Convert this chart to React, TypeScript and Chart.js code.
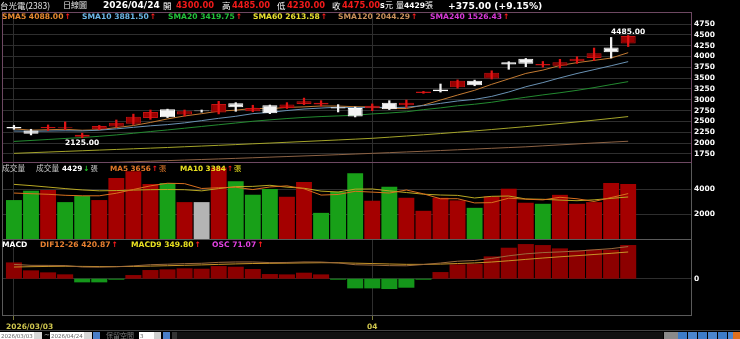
import React, { useEffect, useRef } from 'react';
import { Chart, registerables } from 'chart.js';

Chart.register(...registerables);

// ---------------- data ----------------
const dates = [
  '2026/03/03', '2026/03/04', '2026/03/05', '2026/03/06', '2026/03/09', '2026/03/10', '2026/03/11', '2026/03/12', '2026/03/13',
  '2026/03/16', '2026/03/17', '2026/03/18', '2026/03/19', '2026/03/20', '2026/03/23', '2026/03/24', '2026/03/25', '2026/03/26',
  '2026/03/27', '2026/03/30', '2026/03/31', '2026/04/01', '2026/04/02', '2026/04/07', '2026/04/08', '2026/04/09', '2026/04/10',
  '2026/04/13', '2026/04/14', '2026/04/15', '2026/04/16', '2026/04/17', '2026/04/20', '2026/04/21', '2026/04/22', '2026/04/23', '2026/04/24',
];
const opens = [2370, 2290, 2345, 2345, 2150, 2320, 2385, 2445, 2580, 2780, 2660, 2755, 2705, 2920, 2735, 2875, 2810, 2905, 2890, 2830, 2810, 2805, 2935, 2875, 3160, 3240, 3290, 3440, 3490, 3870, 3950, 3790, 3785, 3890, 3965, 4210, 4300];
const highs = [2410, 2320, 2420, 2490, 2230, 2410, 2535, 2670, 2765, 2785, 2765, 2765, 2965, 2935, 2875, 2880, 2935, 3040, 2980, 2890, 2835, 2905, 2980, 2995, 3195, 3365, 3460, 3455, 3670, 3880, 3955, 3885, 3935, 3995, 4195, 4440, 4485];
const lows = [2320, 2190, 2290, 2310, 2125, 2310, 2370, 2430, 2550, 2590, 2625, 2715, 2675, 2735, 2725, 2680, 2800, 2890, 2855, 2720, 2605, 2750, 2775, 2825, 3150, 3180, 3270, 3325, 3480, 3705, 3765, 3755, 3735, 3840, 3905, 3965, 4230];
const closes = [2340, 2215, 2375, 2365, 2195, 2395, 2470, 2610, 2720, 2600, 2735, 2735, 2905, 2830, 2810, 2690, 2890, 2965, 2935, 2800, 2615, 2865, 2785, 2935, 3190, 3200, 3440, 3335, 3625, 3815, 3830, 3825, 3870, 3950, 4075, 4100, 4475];
const priorClose = 2380; // close before the window (first volume bar is drawn as a down day)

const sma5 = [2330, 2300, 2310, 2320, 2298, 2309, 2360, 2407, 2478, 2559, 2627, 2680, 2739, 2761, 2803, 2794, 2825, 2837, 2858, 2856, 2841, 2836, 2800, 2800, 2878, 2995, 3110, 3220, 3358, 3483, 3609, 3686, 3793, 3858, 3910, 3964, 4088];
const sma10 = [2280, 2275, 2280, 2285, 2282, 2300, 2330, 2365, 2400, 2428, 2468, 2520, 2573, 2620, 2681, 2711, 2753, 2788, 2810, 2830, 2818, 2831, 2819, 2829, 2867, 2918, 2973, 3010, 3079, 3181, 3302, 3398, 3507, 3608, 3697, 3787, 3881.5];
const sma20 = [2040, 2062, 2085, 2108, 2130, 2158, 2190, 2228, 2268, 2305, 2345, 2385, 2425, 2465, 2505, 2538, 2568, 2594, 2614, 2629, 2643, 2675, 2696, 2724, 2774, 2814, 2863, 2899, 2944, 3005, 3060, 3114, 3163, 3219, 3282, 3352, 3419.75];
const sma60 = [1765, 1780, 1795, 1810, 1825, 1840, 1855, 1870, 1885, 1900, 1917, 1933, 1950, 1967, 1985, 2002, 2020, 2038, 2056, 2074, 2093, 2112, 2138, 2165, 2193, 2222, 2252, 2283, 2315, 2348, 2382, 2417, 2453, 2490, 2530, 2571, 2613.58];
const sma120 = [1480, 1493, 1506, 1519, 1532, 1545, 1558, 1571, 1584, 1597, 1610, 1623, 1636, 1649, 1663, 1677, 1691, 1705, 1719, 1734, 1749, 1765, 1781, 1797, 1813, 1830, 1847, 1864, 1881, 1898, 1915, 1938, 1960, 1982, 2004, 2024, 2044.29];
const sma240 = [1392, 1396, 1399, 1403, 1407, 1411, 1414, 1418, 1422, 1426, 1430, 1434, 1438, 1442, 1446, 1450, 1454, 1458, 1462, 1466, 1470, 1474, 1478, 1482, 1486, 1490, 1494, 1498, 1502, 1506, 1510, 1514, 1518, 1521, 1523, 1525, 1526.43];

const volumes = [3135, 3890, 3945, 2970, 3460, 3135, 4915, 5460, 4430, 4510, 2970, 2970, 5750, 4650, 3565, 4025, 3400, 4590, 2105, 3810, 5300, 3080, 4210, 3320, 2270, 3320, 3110, 2510, 3435, 4050, 2920, 2835, 3555, 2835, 2970, 4500, 4429];
const volMa5 = [3700, 3650, 3600, 3520, 3480, 3480, 3685, 3988, 4280, 4490, 4457, 4068, 4126, 4170, 3981, 4192, 4278, 4046, 3537, 3586, 3841, 3777, 3701, 3944, 3636, 3240, 3246, 2906, 2929, 3285, 3205, 3150, 3359, 3239, 3023, 3339, 3656];
const volMa10 = [4400, 4300, 4180, 4060, 3950, 3880, 3900, 3940, 3970, 3985, 3969, 3877, 4057, 4225, 4236, 4325, 4173, 4086, 3854, 3784, 4017, 4028, 3874, 3741, 3611, 3541, 3512, 3304, 3437, 3461, 3223, 3198, 3133, 3084, 3154, 3272, 3384];

const dif = [187.2, 174.8, 174.0, 172.1, 153.3, 151.3, 156.4, 168.1, 183.3, 189.6, 197.2, 201.8, 214.1, 219.0, 219.2, 211.0, 212.6, 219.4, 218.1, 206.4, 183.0, 177.9, 171.0, 169.1, 185.5, 205.1, 229.0, 238.3, 265.5, 300.1, 326.1, 341.8, 350.8, 361.5, 378.2, 393.5, 420.87];
const macd9 = [152.8, 157.2, 160.6, 162.9, 161.0, 159.0, 158.5, 160.4, 165.0, 169.9, 175.4, 180.7, 187.4, 193.7, 198.8, 201.2, 203.5, 206.7, 209.0, 208.5, 203.4, 198.3, 192.8, 188.1, 187.6, 191.1, 198.7, 206.6, 218.4, 234.7, 253.0, 270.8, 286.8, 301.7, 317.0, 332.3, 349.8];
const osc = [34.4, 17.6, 13.4, 9.2, -7.7, -7.7, -2.1, 7.7, 18.3, 19.7, 21.8, 21.1, 26.7, 25.3, 20.4, 9.8, 9.1, 12.7, 9.1, -2.1, -20.4, -20.4, -21.8, -19.0, -2.1, 14.0, 30.3, 31.7, 47.1, 65.4, 73.1, 71.0, 64.0, 59.8, 61.2, 61.2, 71.07];

const priceTicks = [1750, 2000, 2250, 2500, 2750, 3000, 3250, 3500, 3750, 4000, 4250, 4500, 4750];
const volumeTicks = [2000, 4000];
const macdTicks = [0];
const xTickDates = ['2026/03/03', '2026/04/01'];
const xTickLabels = ['2026/03/03', '04'];

// ---------------- layout / style constants ----------------
const X_MIN = -0.7;
const X_MAX = 39.74;
const FONT = "'DejaVu Sans', sans-serif";
const CJK = "'Noto Sans CJK TC', 'Noto Sans CJK SC', sans-serif";
const GRID = '#2e2e2e';

const last = (a: number[]) => a[a.length - 1];
const idx = dates.map((_, i) => i);
const pts = (arr: number[]) => arr.map((v, i) => ({ x: i, y: v }));
const xTickIdx = xTickDates.map((d) => dates.indexOf(d));

const candleUp = closes.map((c, i) => c >= opens[i]);
const volDir = closes.map((c, i) => {
  const p = i === 0 ? priorClose : closes[i - 1];
  return c > p ? 1 : c < p ? -1 : 0;
});

Chart.defaults.font.family = FONT;

function xScale(height: number, drawTicks: boolean) {
  return {
    type: 'linear',
    min: X_MIN,
    max: X_MAX,
    offset: false,
    display: true,
    afterBuildTicks: (s: any) => {
      s.ticks = xTickIdx.map((v) => ({ value: v }));
    },
    afterFit: (s: any) => {
      s.height = height;
      s.paddingLeft = 0;
      s.paddingRight = 0;
    },
    ticks: { display: false },
    grid: { color: GRID, offset: false, drawTicks, tickLength: 4, tickColor: '#7a7a3a' },
    border: { display: false },
  };
}

function yScale(min: number, max: number, ticks: number[], show = true) {
  return {
    type: 'linear',
    position: 'right',
    min,
    max,
    beginAtZero: false,
    display: show,
    afterBuildTicks: (s: any) => {
      s.ticks = ticks.map((v) => ({ value: v }));
    },
    afterFit: (s: any) => {
      s.width = show ? 48 : 0;
      s.paddingTop = 0;
      s.paddingBottom = 0;
    },
    grid: { color: GRID, drawTicks: false },
    border: { display: false },
    ticks: {
      color: '#ffffff',
      padding: 2,
      font: { family: FONT, size: 7.5, weight: 'bold' },
      callback: (v: any) => String(v),
    },
  };
}

function framePlugin(color: string, sides = { top: true, right: true, bottom: true, left: true }) {
  return {
    id: 'frame',
    afterDraw(chart: any) {
      const { ctx, chartArea: a } = chart;
      const l = Math.round(a.left) + 0.5;
      const r = Math.round(a.right) - 0.5;
      const t = Math.round(a.top) + 0.5;
      const b = Math.round(a.bottom) - 0.5;
      ctx.save();
      ctx.strokeStyle = color;
      ctx.lineWidth = 1;
      ctx.beginPath();
      if (sides.top) { ctx.moveTo(l, t); ctx.lineTo(r, t); }
      if (sides.right) { ctx.moveTo(r, t - 0.5); ctx.lineTo(r, b + 0.5); }
      if (sides.bottom) { ctx.moveTo(l, b); ctx.lineTo(r, b); }
      if (sides.left) { ctx.moveTo(l, t - 0.5); ctx.lineTo(l, b + 0.5); }
      ctx.stroke();
      ctx.restore();
    },
  };
}

const extremaPlugin = {
  id: 'extrema',
  afterDatasetsDraw(chart: any) {
    const { ctx, scales } = chart;
    const hiIdx = highs.indexOf(Math.max(...highs));
    const loIdx = lows.indexOf(Math.min(...lows));
    ctx.save();
    ctx.font = `bold 7.5px ${FONT}`;
    ctx.fillStyle = '#ffffff';
    ctx.textAlign = 'center';
    ctx.textBaseline = 'alphabetic';
    ctx.fillText(highs[hiIdx].toFixed(2), scales.x.getPixelForValue(hiIdx), scales.y.getPixelForValue(highs[hiIdx]) - 1.5);
    ctx.fillText(lows[loIdx].toFixed(2), scales.x.getPixelForValue(loIdx), scales.y.getPixelForValue(lows[loIdx]) + 7.2);
    ctx.restore();
  },
};

const xLabelPlugin = {
  id: 'xlabels',
  afterDraw(chart: any) {
    const { ctx, scales, chartArea } = chart;
    ctx.save();
    ctx.font = `bold 7.5px ${FONT}`;
    ctx.fillStyle = '#cfc64e';
    ctx.textAlign = 'left';
    ctx.textBaseline = 'alphabetic';
    xTickIdx.forEach((ti, k) => {
      const label = xTickLabels[k];
      const w = ctx.measureText(label).width;
      const px = scales.x.getPixelForValue(ti);
      const left = Math.max(px - w / 2, 6);
      ctx.fillText(label, left, chartArea.bottom + 13);
    });
    ctx.restore();
  },
};

const lineDs = (data: number[], color: string, order = 2, yAxisID = 'y') => ({
  type: 'line',
  data: pts(data),
  borderColor: color,
  borderWidth: 1,
  pointRadius: 0,
  tension: 0,
  order,
  clip: 0,
  yAxisID,
});

const common = {
  animation: false,
  responsive: false,
  devicePixelRatio: 1,
  events: [],
  plugins: { legend: { display: false }, tooltip: { enabled: false } },
};

// ---------------- text helpers ----------------
type TP = { x: number; y: number; s: number; c: string; b?: boolean; cjk?: boolean; children?: React.ReactNode };
function T({ x, y, s, c, b, cjk, children }: TP) {
  return (
    <span
      style={{
        position: 'absolute',
        left: x,
        top: y - s * (cjk ? 0.56 : 0.5),
        fontSize: s,
        lineHeight: 1,
        color: c,
        fontWeight: b ? 700 : 400,
        fontFamily: cjk ? CJK : FONT,
        whiteSpace: 'nowrap',
      }}
    >
      {children}
    </span>
  );
}
const Up = () => <span style={{ color: '#ff1c1c', marginLeft: 1 }}>↑</span>;
const Cj = ({ children, c }: { children: React.ReactNode; c: string }) => (
  <span style={{ fontFamily: CJK, fontWeight: 400, color: c, marginLeft: 1 }}>{children}</span>
);

export default function App() {
  const aRef = useRef<HTMLCanvasElement>(null);
  const bRef = useRef<HTMLCanvasElement>(null);
  const cRef = useRef<HTMLCanvasElement>(null);

  useEffect(() => {
    const charts: Chart[] = [];

    // ---- candles ----
    charts.push(
      new Chart(aRef.current as HTMLCanvasElement, {
        type: 'bar',
        data: {
          datasets: [
            {
              type: 'bar',
              data: idx.map((i) => ({ x: i, y: [lows[i], highs[i]] })),
              backgroundColor: candleUp.map((u) => (u ? '#e01414' : '#f2f2f2')),
              barThickness: 1.6,
              grouped: false,
              order: 0,
            },
            {
              type: 'bar',
              data: idx.map((i) => ({ x: i, y: [opens[i], closes[i]] })),
              backgroundColor: candleUp.map((u) => (u ? '#9a0000' : '#f4f4f4')),
              borderColor: candleUp.map((u) => (u ? '#c41212' : '#ffffff')),
              borderWidth: 1,
              borderSkipped: false,
              barPercentage: 0.88,
              categoryPercentage: 1,
              grouped: false,
              order: 1,
            },
            lineDs(sma240, '#a030a0'),
            lineDs(sma120, '#8c6244'),
            lineDs(sma60, '#a4a42a'),
            lineDs(sma20, '#238a30'),
            lineDs(sma10, '#6a92b4'),
            lineDs(sma5, '#c27a32'),
          ],
        } as any,
        options: {
          ...common,
          layout: { padding: { left: 2, top: 12, right: 0, bottom: 1 } },
          scales: { x: xScale(0, false), y: yScale(1542, 5027, priceTicks) },
        } as any,
        plugins: [framePlugin('#6e4862'), extremaPlugin],
      })
    );

    // ---- volume ----
    charts.push(
      new Chart(bRef.current as HTMLCanvasElement, {
        type: 'bar',
        data: {
          datasets: [
            {
              type: 'bar',
              data: pts(volumes),
              backgroundColor: volDir.map((d) => (d > 0 ? '#a40000' : d < 0 ? '#18a018' : '#b4b4b4')),
              barPercentage: 0.93,
              categoryPercentage: 1,
              grouped: false,
              order: 2,
            },
            lineDs(volMa10, '#b8a824', 1),
            lineDs(volMa5, '#d8701e', 0),
          ],
        } as any,
        options: {
          ...common,
          layout: { padding: { left: 2, top: 0, right: 0, bottom: 0 } },
          scales: { x: xScale(0, false), y: yScale(0, 6120, volumeTicks) },
        } as any,
        plugins: [framePlugin('#5a5a5a', { top: false, right: true, bottom: false, left: true })],
      })
    );

    // ---- MACD ----
    charts.push(
      new Chart(cRef.current as HTMLCanvasElement, {
        type: 'bar',
        data: {
          datasets: [
            {
              type: 'bar',
              data: pts(osc),
              yAxisID: 'yOsc',
              backgroundColor: osc.map((v) => (v >= 0 ? '#8c0000' : '#14961a')),
              barPercentage: 0.94,
              categoryPercentage: 1,
              grouped: false,
              order: 2,
            },
            lineDs(macd9, '#c89428', 1),
            lineDs(dif, '#9c6a3c', 0),
          ],
        } as any,
        options: {
          ...common,
          layout: { padding: { left: 2, top: 0, right: 0, bottom: 0 } },
          scales: {
            x: xScale(23, true),
            y: yScale(-489, 520, macdTicks),
            yOsc: { ...yScale(-78.7, 83.8, [], false), grid: { display: false } },
          },
        } as any,
        plugins: [framePlugin('#5a5a5a'), xLabelPlugin],
      })
    );

    return () => charts.forEach((c) => c.destroy());
  }, []);

  const inputBox = (x: number, w: number, text: string) => (
    <div
      style={{
        position: 'absolute', left: x, top: 332, width: w, height: 8, background: '#ffffff',
        fontFamily: FONT, fontSize: 5.5, lineHeight: '8px', color: '#666', paddingLeft: 1, boxSizing: 'border-box', overflow: 'hidden',
      }}
    >
      {text}
    </div>
  );
  const square = (x: number, w: number, bg: string) => (
    <div style={{ position: 'absolute', left: x, top: 332, width: w, height: 8, background: bg }} />
  );

  return (
    <div style={{ position: 'relative', width: 740, height: 339, background: '#000', overflow: 'hidden' }}>
      <style>{'html,body{margin:0;padding:0;background:#000;}'}</style>
      <canvas ref={aRef} width={740} height={164} style={{ position: 'absolute', left: 0, top: 0 }} />
      <canvas ref={bRef} width={740} height={76} style={{ position: 'absolute', left: 0, top: 163 }} />
      <canvas ref={cRef} width={740} height={100} style={{ position: 'absolute', left: 0, top: 239 }} />

      {/* header row 1 */}
      <T x={0} y={5.5} s={8.5} c="#e4e4e4" cjk>台光電(2383)</T>
      <T x={63} y={5.5} s={8} c="#e4e4e4" cjk>日線圖</T>
      <T x={103} y={5.5} s={9} c="#ffffff" b>{dates[dates.length - 1]}</T>
      <T x={163} y={5.5} s={8.5} c="#ffffff" cjk>開</T>
      <T x={176} y={5.5} s={8.4} c="#f01a1a" b>{last(opens).toFixed(2)}</T>
      <T x={222} y={5.5} s={8.5} c="#ffffff" cjk>高</T>
      <T x={232} y={5.5} s={8.4} c="#f01a1a" b>{last(highs).toFixed(2)}</T>
      <T x={277} y={5.5} s={8.5} c="#ffffff" cjk>低</T>
      <T x={287} y={5.5} s={8.4} c="#f01a1a" b>{last(lows).toFixed(2)}</T>
      <T x={332} y={5.5} s={8.5} c="#ffffff" cjk>收</T>
      <T x={342} y={5.5} s={8.4} c="#f01a1a" b>{last(closes).toFixed(2)}</T>
      <T x={380} y={5.5} s={8} c="#ffffff" b>s</T>
      <T x={385} y={5.5} s={8} c="#ffffff" cjk>元</T>
      <T x={396} y={5.5} s={8} c="#ffffff" cjk>量</T>
      <T x={404} y={5.5} s={7.6} c="#ffffff" b>{last(volumes)}</T>
      <T x={425} y={5.5} s={8} c="#ffffff" cjk>張</T>
      <T x={448} y={5.5} s={9.2} c="#ffffff" b>+375.00 (+9.15%)</T>

      {/* header row 2: moving averages */}
      <T x={2} y={16.5} s={7.6} c="#e88a30" b>SMA5 {last(sma5).toFixed(2)}<Up /></T>
      <T x={82} y={16.5} s={7.6} c="#6cb6e6" b>SMA10 {last(sma10).toFixed(2)}<Up /></T>
      <T x={168} y={16.5} s={7.6} c="#22c23a" b>SMA20 {last(sma20).toFixed(2)}<Up /></T>
      <T x={253} y={16.5} s={7.6} c="#e8e030" b>SMA60 {last(sma60).toFixed(2)}<Up /></T>
      <T x={338} y={16.5} s={7.6} c="#c8905a" b>SMA120 {last(sma120).toFixed(2)}<Up /></T>
      <T x={430} y={16.5} s={7.6} c="#d83ad8" b>SMA240 {last(sma240).toFixed(2)}<Up /></T>

      {/* volume header */}
      <T x={2} y={168.5} s={7.7} c="#c8c8c8" cjk>成交量</T>
      <T x={36} y={168.5} s={7.7} c="#c8c8c8" cjk>成交量</T>
      <T x={62} y={168.5} s={7.3} c="#ffffff" b>
        {last(volumes)}
        <span style={{ color: '#22c22a', marginLeft: 1 }}>↓</span>
        <Cj c="#c8c8c8">張</Cj>
      </T>
      <T x={110} y={168.5} s={7.3} c="#e07828" b>MA5 {Math.round(last(volMa5))}<Up /><Cj c="#e07828">張</Cj></T>
      <T x={180} y={168.5} s={7.3} c="#e8e020" b>MA10 {Math.round(last(volMa10))}<Up /><Cj c="#e8e020">張</Cj></T>

      {/* MACD header */}
      <T x={2} y={245} s={7.6} c="#ffffff" b>MACD</T>
      <T x={40} y={245} s={7.6} c="#e88030" b>DIF12-26 {last(dif).toFixed(2)}<Up /></T>
      <T x={131} y={245} s={7.6} c="#e8e020" b>MACD9 {last(macd9).toFixed(2)}<Up /></T>
      <T x={212} y={245} s={7.6} c="#e040e0" b>OSC {last(osc).toFixed(2)}<Up /></T>

      {/* bottom control strip */}
      <div style={{ position: 'absolute', left: 0, top: 330, width: 740, height: 1, background: '#444' }} />
      {inputBox(0, 34, dates[0])}
      {square(34, 8, '#d8d8d8')}
      <T x={44} y={335.5} s={7} c="#cccccc">~</T>
      {inputBox(50, 34, dates[dates.length - 1])}
      {square(84, 8, '#d8d8d8')}
      {square(93, 7, '#4a7ec8')}
      <T x={106} y={335.5} s={7} c="#7a7a7a" cjk>保留空間</T>
      {inputBox(139, 15, '3')}
      {square(154, 7, '#cfcfcf')}
      {square(163, 7, '#4a7ec8')}
      {square(172, 5, '#333')}
      <div style={{ position: 'absolute', left: 177, top: 332, width: 486, height: 7, background: '#111' }} />
      {square(664, 14, '#8a8a8a')}
      {square(678, 9, '#3d7cc9')}
      {square(688, 9, '#4b86cf')}
      {square(698, 9, '#3d7cc9')}
      {square(708, 9, '#4b86cf')}
      {square(718, 9, '#3d7cc9')}
      {square(728, 5, '#4b86cf')}
      {square(733, 7, '#e07020')}
    </div>
  );
}
